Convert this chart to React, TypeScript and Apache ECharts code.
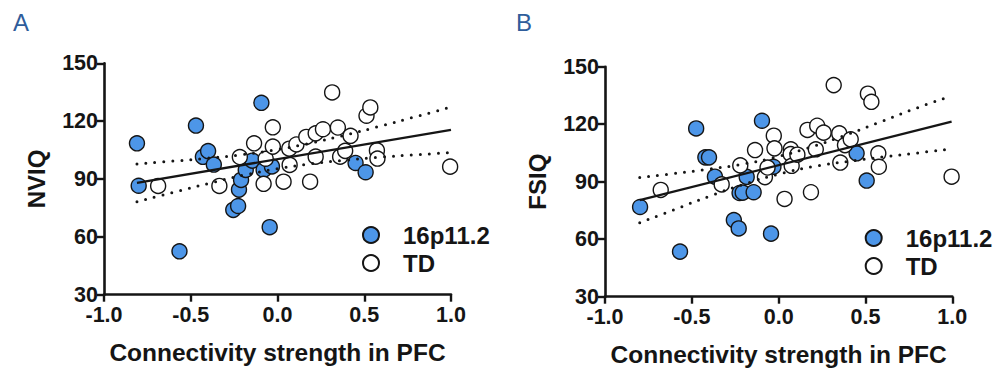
import React, { useEffect, useRef } from "react";
import * as echarts from "echarts";

// Panel A: NVIQ vs connectivity strength
const nviqCnv: number[][] = [
  [-0.81, 108.5], [-0.8, 86.5], [-0.47, 117.7], [-0.565, 52.5], [-0.43, 101.5],
  [-0.4, 104.5], [-0.367, 97.5], [-0.255, 74], [-0.227, 76], [-0.222, 84.5],
  [-0.21, 89.5], [-0.183, 94.7], [-0.145, 99.5], [-0.093, 129.5], [-0.08, 94.7],
  [-0.032, 96.5], [-0.045, 65], [0.45, 98.3], [0.508, 93.5],
];
const nviqTd: number[][] = [
  [-0.688, 86.4], [-0.335, 86.4], [-0.217, 101.4], [-0.135, 108.5], [-0.08, 87.5],
  [-0.068, 100.5], [-0.027, 116.8], [-0.027, 106.8], [0.035, 88.6], [0.068, 105.7],
  [0.07, 97.3], [0.109, 107.9], [0.166, 111.8], [0.188, 88.6], [0.22, 101.6],
  [0.22, 113.7], [0.262, 115.8], [0.315, 134.9], [0.348, 116.7], [0.361, 101.6],
  [0.39, 104.6], [0.421, 112.4], [0.513, 122.8], [0.535, 127.1], [0.573, 104.8],
  [0.576, 100.6], [0.995, 96.4],
];
const nviqFit: number[][] = [[-0.81, 88.0], [1.0, 115.5]];
const ciXA = [-0.81, -0.6, -0.4, -0.2, 0, 0.2, 0.4, 0.6, 0.8, 1.0];
const nviqUpper = [97.8, 99.3, 100.8, 102.7, 105.3, 108.8, 113.0, 117.6, 122.4, 127.3];
const nviqLower = [78.2, 83.1, 87.6, 91.9, 95.3, 98.0, 99.8, 101.4, 102.6, 103.7];

// Panel B: FSIQ vs connectivity strength
const fsiqCnv: number[][] = [
  [-0.798, 76.8], [-0.568, 53.5], [-0.475, 117.8], [-0.422, 102.7], [-0.401, 102.7],
  [-0.367, 92.6], [-0.258, 70], [-0.23, 65.6], [-0.225, 84.1], [-0.207, 84.3],
  [-0.184, 92.5], [-0.144, 84.5], [-0.096, 121.8], [-0.044, 62.9], [-0.03, 97.8],
  [0.449, 104.8], [0.507, 90.6],
];
const fsiqTd: number[][] = [
  [-0.679, 85.7], [-0.328, 88.6], [-0.221, 98.5], [-0.136, 106.5], [-0.079, 92.4],
  [-0.064, 97.4], [-0.028, 114], [-0.024, 107.4], [0.034, 81], [0.07, 106.9],
  [0.069, 104.4], [0.075, 98.3], [0.108, 104.1], [0.166, 117], [0.186, 84.5],
  [0.214, 106.9], [0.222, 119.2], [0.259, 115.6], [0.317, 140.4], [0.349, 115.2],
  [0.355, 100], [0.382, 109.1], [0.415, 112.1], [0.514, 135.9], [0.534, 131.7],
  [0.574, 104.8], [0.577, 97.8], [0.996, 92.6],
];
const fsiqFit: number[][] = [[-0.8, 80.4], [0.996, 121.3]];
const ciXB = [-0.8, -0.6, -0.4, -0.2, 0, 0.2, 0.4, 0.6, 0.8, 0.97];
const fsiqUpper = [92.2, 94.3, 96.6, 99.3, 103.2, 108.5, 114.8, 121.7, 128.6, 134.0];
const fsiqLower = [68.6, 75.5, 82.4, 88.7, 94.0, 97.9, 100.6, 102.9, 105.0, 106.9];

const yTitles = ["NVIQ", "FSIQ"];
const xTitle = "Connectivity strength in PFC";
const groupNames = ["16p11.2", "TD"];
const panelLetters = ["A", "B"];

const FONT = "'Liberation Sans', Arial, Helvetica, sans-serif";
const BLUE = "#4d96e8";
const INK = "#151515";

function zip(xs: number[], ys: number[]) {
  return xs.map((x, i) => [x, ys[i]]);
}

export default function App() {
  const ref = useRef<HTMLDivElement>(null);
  useEffect(() => {
    document.body.style.margin = "0";
    const chart = echarts.init(ref.current!, null, { renderer: "svg" });
    const grids = [
      { left: 104, top: 63.3, width: 347, height: 231.4 },
      { left: 605, top: 66.7, width: 347.3, height: 230 },
    ];
    const xAxes = grids.map((_, i) => ({
      type: "value",
      gridIndex: i,
      min: -1,
      max: 1,
      interval: 0.5,
      name: xTitle,
      nameLocation: "middle",
      nameGap: 45,
      nameTextStyle: { fontFamily: FONT, fontWeight: "bold", fontSize: 24.5, color: INK },
      splitLine: { show: false },
      axisLine: { show: true, onZero: false, lineStyle: { color: INK, width: 2.6 } },
      axisTick: { show: true, length: 7, lineStyle: { color: INK, width: 2.4 } },
      axisLabel: {
        fontFamily: FONT,
        fontWeight: "bold",
        fontSize: 21.5,
        color: INK,
        margin: 9,
        formatter: (v: number) => v.toFixed(1),
      },
    }));
    const yAxes = grids.map((_, i) => ({
      type: "value",
      gridIndex: i,
      min: 30,
      max: 150,
      interval: 30,
      name: yTitles[i],
      nameLocation: "middle",
      nameRotate: 90,
      nameGap: 56,
      nameTextStyle: { fontFamily: FONT, fontWeight: "bold", fontSize: 24, color: INK },
      splitLine: { show: false },
      axisLine: { show: true, onZero: false, lineStyle: { color: INK, width: 2.6 } },
      axisTick: { show: true, length: 7, lineStyle: { color: INK, width: 2.4 } },
      axisLabel: { fontFamily: FONT, fontWeight: "bold", fontSize: 21.5, color: INK, margin: 6 },
    }));

    const panels = [
      { blue: nviqCnv, white: nviqTd, fit: nviqFit, cx: ciXA, up: nviqUpper, lo: nviqLower },
      { blue: fsiqCnv, white: fsiqTd, fit: fsiqFit, cx: ciXB, up: fsiqUpper, lo: fsiqLower },
    ];
    const series: any[] = [];
    panels.forEach((p, i) => {
      const dotted = {
        type: "line",
        xAxisIndex: i,
        yAxisIndex: i,
        smooth: true,
        symbol: "none",
        silent: true,
        lineStyle: { color: INK, width: 3, type: [0, 9], cap: "round" },
      };
      series.push({ ...dotted, data: zip(p.cx, p.up) });
      series.push({ ...dotted, data: zip(p.cx, p.lo) });
      series.push({
        type: "line",
        xAxisIndex: i,
        yAxisIndex: i,
        symbol: "none",
        silent: true,
        data: p.fit,
        lineStyle: { color: INK, width: 2.4 },
      });
      series.push({
        type: "scatter",
        name: groupNames[0],
        xAxisIndex: i,
        yAxisIndex: i,
        symbolSize: 15,
        data: p.blue,
        itemStyle: { color: BLUE, borderColor: INK, borderWidth: 1.4, opacity: 1 },
      });
      series.push({
        type: "scatter",
        name: groupNames[1],
        xAxisIndex: i,
        yAxisIndex: i,
        symbolSize: 15,
        data: p.white,
        itemStyle: { color: "#ffffff", borderColor: INK, borderWidth: 1.4, opacity: 1 },
      });
    });

    const legendBase = {
      orient: "vertical",
      icon: "circle",
      itemWidth: 16,
      itemHeight: 16,
      itemGap: 4,
      padding: 0,
      selectedMode: false,
      data: groupNames,
      textStyle: {
        fontFamily: FONT,
        fontWeight: "bold",
        fontSize: 24,
        color: INK,
        padding: [0, 0, 0, 19],
      },
    };

    chart.setOption({
      animation: false,
      backgroundColor: "#ffffff",
      grid: grids,
      xAxis: xAxes,
      yAxis: yAxes,
      series,
      legend: [
        { ...legendBase, left: 362, top: 223 },
        { ...legendBase, left: 864.7, top: 226 },
      ],
      graphic: [
        {
          type: "text",
          left: 13,
          top: 10,
          style: { text: panelLetters[0], fontFamily: FONT, fontSize: 24, fill: "#2f5d9b" },
        },
        {
          type: "text",
          left: 516,
          top: 10,
          style: { text: panelLetters[1], fontFamily: FONT, fontSize: 24, fill: "#2f5d9b" },
        },
      ],
    });
    return () => chart.dispose();
  }, []);
  return <div ref={ref} style={{ width: 1000, height: 374 }} />;
}
